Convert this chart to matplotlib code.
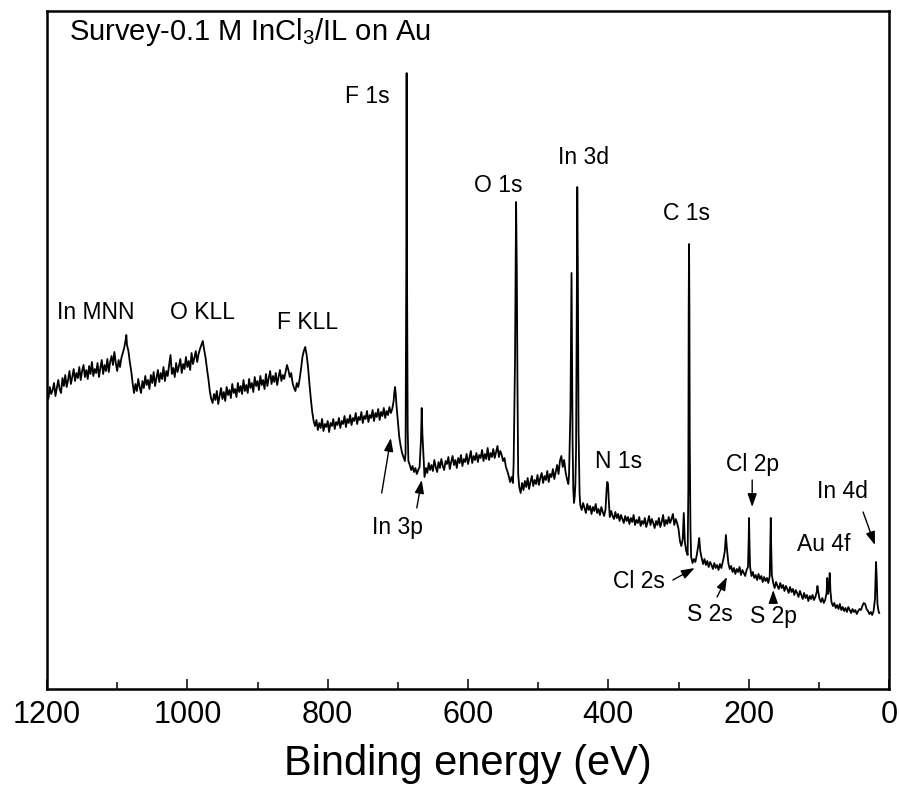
import matplotlib
matplotlib.use("Agg")
import matplotlib.pyplot as plt
from matplotlib.ticker import MultipleLocator

plt.rcParams['font.family'] = ['Liberation Sans', 'DejaVu Sans']
plt.rcParams['mathtext.fontset'] = 'custom'
plt.rcParams['mathtext.rm'] = 'Liberation Sans'
plt.rcParams['mathtext.it'] = 'Liberation Sans'

# survey spectrum, split by region
# binding energy (eV) / intensity (a.u.)
be_auger = [
    1200, 1198, 1196, 1194, 1192, 1190, 1188, 1186, 1184, 1182,
    1180, 1178, 1176, 1174, 1172, 1170, 1168, 1166, 1164, 1162,
    1160, 1158, 1156, 1154, 1152, 1150, 1148, 1146, 1144, 1142,
    1140, 1138, 1136, 1134, 1132, 1130, 1128, 1126, 1124, 1122,
    1120, 1118, 1116, 1114, 1112, 1110, 1108, 1106, 1104, 1102,
    1100, 1098, 1096, 1094, 1092, 1090, 1088, 1087, 1086, 1084,
    1082, 1080, 1078, 1076, 1074, 1072, 1070, 1068, 1066, 1064,
    1062, 1060, 1058, 1056, 1054, 1052, 1050, 1048, 1046, 1044,
    1042, 1040, 1038, 1036, 1034, 1032, 1030, 1028, 1026, 1024,
    1022, 1020, 1018, 1016, 1014, 1012, 1010, 1008, 1006, 1004,
    1002, 1000, 998, 996, 994, 992, 990, 988, 986, 984,
    982, 980, 978, 976, 974, 972, 970, 968, 966, 964,
    962, 960, 958, 956, 954, 952, 950, 948, 946, 944,
    942, 940, 938, 936, 934, 932, 930, 928, 926, 924,
    922, 920, 918, 916, 914, 912, 910, 908, 906, 904,
    902, 900, 898, 896, 894, 892, 890, 888, 886, 884,
    882, 880, 878, 876, 874, 872, 870, 868, 866, 864,
    862, 860, 858, 856, 854, 852, 850, 848, 846, 844,
    842, 840, 838, 836, 834, 832, 830, 828, 826, 824,
    822, 820, 818, 816, 814, 812, 810, 808, 806, 804,
    802, 800, 798, 796, 794, 792, 790, 788, 786, 784,
    782, 780, 778, 776, 774, 772, 770, 768, 766, 764,
    762, 760, 758, 756, 754, 752, 750, 748, 746, 744,
    742, 740, 738, 736, 734, 732, 730, 728, 726, 724,
    722, 720, 718, 716, 714, 712, 710, 708, 706, 705,
    704, 703, 702, 700,
]
int_auger = [
    297, 290, 302, 295, 299, 306, 293, 301, 309, 300,
    296, 311, 303, 314, 302, 309, 318, 305, 312, 320,
    308, 316, 311, 322, 309, 318, 324, 312, 319, 310,
    323, 315, 327, 313, 320, 316, 326, 312, 321, 329,
    315, 324, 318, 330, 317, 327, 333, 324, 337, 326,
    318, 329, 322, 331, 336, 341, 349, 354, 344, 338,
    327, 318, 306, 296, 305, 298, 310, 302, 296, 308,
    301, 313, 304, 309, 300, 314, 306, 317, 303, 311,
    319, 307, 316, 310, 322, 308, 318, 313, 324, 334,
    315, 321, 312, 326, 317, 323, 330, 316, 325, 320,
    332, 322, 328, 319, 336, 325, 331, 338, 327, 335,
    340, 344, 348, 339, 331, 320, 310, 298, 290, 286,
    295, 289, 298, 285, 293, 301, 290, 297, 288, 302,
    294, 299, 291, 305, 296, 300, 292, 306, 297, 303,
    295, 309, 298, 304, 296, 310, 301, 306, 297, 312,
    303, 308, 299, 313, 304, 309, 300, 315, 303, 311,
    318, 305, 313, 307, 316, 304, 312, 319, 308, 314,
    310, 317, 324, 319, 312, 316, 306, 301, 298, 306,
    302, 310, 320, 332, 338, 342, 334, 322, 305, 290,
    277, 268, 263, 269, 259, 266, 261, 270, 258, 265,
    262, 268, 257, 266, 263, 270, 260, 267, 264, 271,
    261, 268, 265, 273, 262, 270, 266, 274, 264, 271,
    268, 276, 265, 272, 269, 277, 266, 273, 270, 278,
    267, 274, 271, 279, 268, 276, 272, 280, 269, 277,
    273, 281, 271, 278, 274, 282, 276, 280, 288, 297,
    302, 295, 284, 268,
]

be_f1s_o1s = [
    698, 696, 694, 692, 690, 689, 688, 687.5, 687, 686,
    685, 683, 681, 679, 677, 675, 673, 671, 669, 667,
    666, 665, 663, 662, 660, 658, 656, 654, 652, 650,
    648, 646, 644, 642, 640, 638, 636, 634, 632, 630,
    628, 626, 624, 622, 620, 618, 616, 614, 612, 610,
    608, 606, 604, 602, 600, 598, 596, 594, 592, 590,
    588, 586, 584, 582, 580, 578, 576, 574, 572, 570,
    568, 566, 564, 562, 560, 558, 556, 554, 552, 550,
    548, 546, 544, 542, 540, 538, 536, 535, 533, 531.5,
    530.5, 529.5, 528.5, 527, 525, 523,
]
int_f1s_o1s = [
    252, 243, 236, 232, 228, 236, 420, 616, 430, 260,
    228, 224, 219, 223, 217, 221, 215, 219, 222, 250,
    281, 255, 225, 212, 221, 216, 226, 219, 224, 218,
    229, 222, 217, 227, 221, 230, 223, 219, 228, 225,
    232, 220, 227, 233, 224, 229, 221, 231, 226, 234,
    223, 230, 227, 235, 225, 231, 238, 226, 233, 229,
    236, 227, 234, 231, 239, 228, 235, 230, 241, 229,
    236, 232, 240, 231, 237, 243, 232, 238, 234, 228,
    231, 222, 218, 213, 207, 212, 206, 225, 330, 487,
    420, 300, 215, 202, 196, 206,
]

be_in3d_c1s = [
    521, 519, 517, 515, 513, 511, 509, 507, 505, 503,
    501, 499, 497, 495, 493, 491, 489, 487, 485, 483,
    481, 479, 477, 475, 473, 471, 469, 467, 465, 463,
    461, 459, 457, 456, 454, 453, 452.5, 452, 451, 450,
    449, 448, 447, 446, 445, 444.3, 443.5, 442.5, 441, 440,
    438, 436, 434, 432, 430, 428, 426, 424, 422, 420,
    418, 416, 414, 412, 410, 408, 406, 404, 402.5, 401.5,
    400.5, 399.5, 398, 396, 394, 392, 390, 388, 386, 384,
    382, 380, 378, 376, 374, 372, 370, 368, 366, 364,
    362, 360, 358, 356, 354, 352, 350, 348, 346, 344,
    342, 340, 338, 336, 334, 332, 330, 328, 326, 324,
    322, 320, 318, 316, 314, 312, 310, 308, 306, 304,
    302, 300, 298, 296, 294, 292.5, 291, 289, 287, 286,
    285.5, 285, 284.5, 284, 283,
]
int_in3d_c1s = [
    199, 208, 202, 211, 200, 207, 213, 203, 209, 205,
    214, 204, 211, 216, 206, 213, 209, 218, 207, 215,
    212, 220, 210, 217, 224, 215, 228, 233, 222, 229,
    217, 210, 205, 215, 280, 380, 416, 360, 250, 200,
    186, 192, 205, 240, 380, 502, 420, 260, 195, 184,
    179, 186, 181, 176, 185, 179, 183, 175, 182, 178,
    185, 176, 180, 174, 182, 177, 173, 180, 200, 207,
    205, 190, 172, 178, 173, 170, 177, 171, 175, 168,
    174, 170, 166, 173, 168, 172, 165, 171, 167, 174,
    164, 169, 166, 172, 163, 168, 165, 171, 162, 167,
    173, 164, 170, 166, 161, 168, 164, 171, 162, 167,
    174, 163, 169, 165, 172, 166, 170, 175, 164, 170,
    166, 160, 148, 143, 150, 176, 147, 138, 134, 200,
    380, 445, 380, 250, 160,
]

be_low = [
    282, 280, 278, 276, 274, 272, 270.5, 269, 267, 265,
    263, 261, 259, 257, 255, 253, 251, 249, 247, 245,
    243, 241, 239, 237, 236, 234, 232.5, 231, 229, 227,
    225, 223, 221, 219, 217, 215, 213, 211, 209, 207,
    205, 203, 201, 200, 199.5, 199, 198, 196, 194, 192,
    190, 188, 186, 184, 182, 180, 178, 176, 174, 172,
    170, 169, 168.5, 168, 167, 165, 163, 161, 159, 157,
    155, 153, 151, 149, 147, 145, 143, 141, 139, 137,
    135, 133, 131, 129, 127, 125, 123, 121, 119, 117,
    115, 113, 111, 109, 107, 105, 103, 102, 101, 99,
    97, 95, 93, 91, 89, 88, 87, 85.5, 84.5, 83.5,
    82, 80, 78, 76, 74, 72, 70, 68, 66, 64,
    62, 60, 58, 56, 54, 52, 50, 48, 46, 44,
    42, 40, 38, 36, 34, 32, 30, 28, 26, 24,
    22, 20, 18.5, 17.5, 16.5, 15, 14,
]
int_low = [
    132, 126, 130, 127, 134, 143, 151, 138, 131, 125,
    130, 124, 128, 122, 127, 124, 120, 126, 121, 124,
    119, 125, 121, 127, 130, 138, 154, 140, 126, 120,
    123, 117, 121, 115, 120, 117, 122, 114, 119, 116,
    113, 119, 122, 150, 171, 150, 122, 113, 117, 111,
    114, 109, 115, 110, 113, 107, 112, 108, 111, 106,
    113, 150, 171, 145, 114, 106, 101, 107, 103, 100,
    106, 101, 104, 98, 103, 100, 96, 102, 97, 100,
    94, 99, 96, 92, 98, 94, 90, 96, 91, 94,
    88, 93, 90, 94, 89, 92, 97, 103, 98, 90,
    87, 91, 86, 89, 96, 111, 95, 100, 116, 98,
    87, 83, 86, 81, 84, 80, 85, 79, 82, 78,
    81, 77, 82, 79, 76, 80, 77, 79, 75, 78,
    80, 79, 83, 86, 85, 80, 78, 75, 77, 74,
    78, 90, 127, 110, 85, 78, 76,
]

# peak labels (text centre in eV / intensity)
peak_labels = ['In MNN', 'O KLL', 'F KLL', 'F 1s', 'O 1s', 'In 3d', 'C 1s', 'N 1s', 'Au 4f']
label_be = [1130, 978, 829, 743, 557, 436, 288, 385, 93]
label_int = [377, 377, 367, 593, 504, 532, 476, 227, 144]

# labels with arrows: text centre, arrow tail, arrow head
arrow_labels = ['Cl 2p', 'In 4d', 'Cl 2s', 'S 2s', 'S 2p']
arrow_text_be = [194, 67, 356, 255, 165]
arrow_text_int = [224, 197, 107, 74, 72]
arrow_tail_be = [195, 37, 308, 245, 165]
arrow_tail_int = [209, 177, 109, 92, 86]
arrow_head_be = [195, 20, 277, 231, 165]
arrow_head_int = [182, 144, 121, 112, 99]

# In 3p: one label, two arrows
in3p_text = (700, 161)
in3p_tails = [(723, 196), (673, 181)]
in3p_heads = [(710, 251), (666, 209)]

binding_energy = be_auger + be_f1s_o1s + be_in3d_c1s + be_low
intensity = int_auger + int_f1s_o1s + int_in3d_c1s + int_low

fig = plt.figure(figsize=(8.99, 7.98), dpi=100)
ax = fig.add_axes([0.0523, 0.1366, 0.9366, 0.8496])

ax.plot(binding_energy, intensity, color='black', lw=1.3)

ax.set_xlim(1200, 0)
ax.set_ylim(0, 678)
ax.set_yticks([])
ax.xaxis.set_major_locator(MultipleLocator(200))
ax.xaxis.set_minor_locator(MultipleLocator(100))
ax.tick_params(axis='x', which='major', direction='in', length=7.5, width=1.1,
               labelsize=22, pad=8, top=False)
ax.tick_params(axis='x', which='minor', direction='in', length=5, width=1.1, top=False)
for sp in ax.spines.values():
    sp.set_linewidth(1.8)

ax.set_xlabel('Binding energy (eV)', fontsize=30, labelpad=10)

ax.text(0.026, 0.957, 'Survey-0.1 M InCl$_3$/IL on Au', transform=ax.transAxes,
        fontsize=21, ha='left', va='baseline')

for lab, x, y in zip(peak_labels, label_be, label_int):
    ax.text(x, y, lab, fontsize=16.5, ha='center', va='center')

arrow_style = dict(arrowstyle='-|>,head_length=0.8,head_width=0.28', color='black',
                   lw=1.0, shrinkA=0, shrinkB=0)
for lab, tx, ty in zip(arrow_labels, arrow_text_be, arrow_text_int):
    ax.text(tx, ty, lab, fontsize=16.5, ha='center', va='center')
for x0, y0, x1, y1 in zip(arrow_tail_be, arrow_tail_int, arrow_head_be, arrow_head_int):
    ax.annotate('', xy=(x1, y1), xytext=(x0, y0), arrowprops=arrow_style)

ax.text(in3p_text[0], in3p_text[1], 'In 3p', fontsize=16.5, ha='center', va='center')
for (x0, y0), (x1, y1) in zip(in3p_tails, in3p_heads):
    ax.annotate('', xy=(x1, y1), xytext=(x0, y0), arrowprops=arrow_style)

fig.savefig('out.png', dpi=100)
